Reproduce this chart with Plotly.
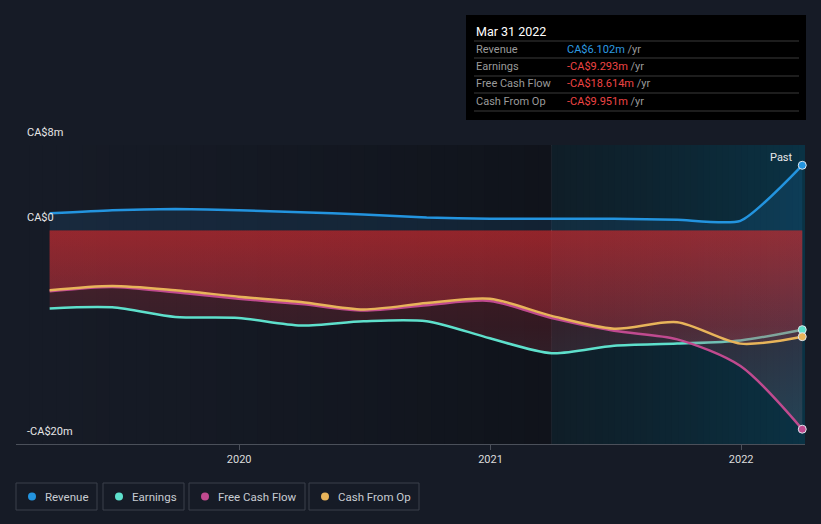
import plotly.graph_objects as go
import pandas as pd

# ---------------- data ----------------
dates = ["2019-03-31", "2019-06-30", "2019-09-30", "2019-12-31", "2020-03-31",
         "2020-06-30", "2020-09-30", "2020-12-31", "2021-03-31", "2021-06-30",
         "2021-09-30", "2021-12-31", "2022-03-31"]
revenue = [1.6, 1.9, 2.0, 1.9, 1.7, 1.5, 1.2, 1.1, 1.1, 1.1, 1.0, 0.9, 6.102]
earnings = [-7.3, -7.2, -8.1, -8.2, -8.9, -8.5, -8.5, -10.1, -11.5, -10.8, -10.6, -10.3, -9.293]
free_cash_flow = [-5.7, -5.3, -5.8, -6.4, -6.9, -7.5, -7.0, -6.6, -8.2, -9.4, -10.2, -12.7, -18.614]
cash_from_op = [-5.6, -5.2, -5.6, -6.2, -6.7, -7.4, -6.8, -6.4, -8.0, -9.2, -8.6, -10.6, -9.951]

series_names = ["Revenue", "Earnings", "Free Cash Flow", "Cash From Op"]
series_colors = ["#2394df", "#5ee0cc", "#c04a8f", "#e8b45a"]
tooltip_date = "Mar 31 2022"
tooltip_values = ["CA$6.102m", "-CA$9.293m", "-CA$18.614m", "-CA$9.951m"]
tooltip_value_colors = ["#2d9be0", "#ee4444", "#ee4444", "#ee4444"]
y_tick_vals = [8, 0, -20]
y_tick_text = ["CA$8m", "CA$0", "-CA$20m"]
x_tick_vals = ["2020-01-01", "2021-01-01", "2022-01-01"]
x_tick_text = ["2020", "2021", "2022"]

# ---------------- layout geometry ----------------
W, H = 821, 524
ML, MR, MT, MB = 16, 16, 145, 80
PW, PH = W - ML - MR, H - MT - MB
X_RANGE = ["2019-02-10", "2022-04-04"]
Y_RANGE = [-20, 8]
BG = "#161b26"
BG_RGB = (22, 27, 38)
FONT = "Roboto, 'Open Sans', sans-serif"


def px(xp):
    return (xp - ML) / PW


def py(yp):
    return (H - MB - yp) / PH


fig = go.Figure()
shapes = []
annotations = []

# background regions (gradients approximated with overlapping opaque stripes)
x0 = pd.Timestamp(X_RANGE[0])
xs = pd.Timestamp(dates[8])
x1 = pd.Timestamp(X_RANGE[1])
n = 40
for i in range(n):
    a = x0 + (xs - x0) * i / n
    b = x0 + (xs - x0) * min(i + 1.6, n) / n
    alpha = 0.30 * ((i + 0.5) / n) ** 1.5
    col = tuple(int(round(c * (1 - alpha))) for c in BG_RGB)
    shapes.append(dict(type="rect", xref="x", yref="y", x0=a, x1=b, y0=Y_RANGE[0], y1=Y_RANGE[1],
                       fillcolor=f"rgb{col}", line_width=0, layer="below"))
c0 = (15, 30, 40)
c1 = (10, 50, 68)
for i in range(n):
    a = xs + (x1 - xs) * i / n
    b = xs + (x1 - xs) * min(i + 1.6, n) / n
    t = ((i + 0.5) / n) ** 1.3
    col = tuple(int(round(c0[k] + (c1[k] - c0[k]) * t)) for k in range(3))
    shapes.append(dict(type="rect", xref="x", yref="y", x0=a, x1=b, y0=Y_RANGE[0], y1=Y_RANGE[1],
                       fillcolor=f"rgb{col}", line_width=0, layer="below"))
shapes.append(dict(type="line", xref="x", yref="y", x0=xs, x1=xs, y0=Y_RANGE[0], y1=Y_RANGE[1],
                   line=dict(color="rgba(255,255,255,0.06)", width=1), layer="below"))

# horizontal grid lines
grid_specs = [(8, "#3b404b", 1), (0, "#a4a8b0", 1.5), (-10, "#2f343e", 1)]
for gv, gc, gw in grid_specs:
    shapes.append(dict(type="line", xref="paper", yref="y", x0=0, x1=1, y0=gv, y1=gv,
                       line=dict(color=gc, width=gw), layer="below"))

# ---------------- traces ----------------
neg_gradient = dict(type="vertical", start=-20, stop=0,
                    colorscale=[[0, "rgba(150,160,180,0.18)"], [0.55, "rgba(190,50,62,0.2)"],
                                [1, "rgba(215,45,50,0.3)"]])

fig.add_trace(go.Scatter(x=dates, y=revenue, mode="lines", name=series_names[0],
                         line=dict(color=series_colors[0], width=2.5, shape="spline", smoothing=0.55),
                         fill="tozeroy", fillcolor="rgba(35,140,220,0.13)", hoverinfo="skip"))
for name, vals, col in [(series_names[1], earnings, series_colors[1]),
                        (series_names[2], free_cash_flow, series_colors[2]),
                        (series_names[3], cash_from_op, series_colors[3])]:
    fig.add_trace(go.Scatter(x=dates, y=vals, mode="lines", name=name,
                             line=dict(color=col, width=2.5, shape="spline", smoothing=0.8),
                             fill="tozeroy", fillgradient=neg_gradient, hoverinfo="skip"))

# end markers
for vals, col in zip([revenue, earnings, free_cash_flow, cash_from_op], series_colors):
    fig.add_trace(go.Scatter(x=[dates[-1]], y=[vals[-1]], mode="markers",
                             marker=dict(color=col, size=8, line=dict(color="#dfe6ee", width=1)),
                             hoverinfo="skip", showlegend=False, cliponaxis=False))

# ---------------- annotations ----------------
for v, t in zip(y_tick_vals, y_tick_text):
    annotations.append(dict(xref="paper", yref="y", x=px(25), y=v, text=t, showarrow=False,
                            xanchor="left", yanchor="bottom", yshift=4,
                            font=dict(color="#e6e6e6", size=11, family=FONT)))

annotations.append(dict(xref="x", yref="y", x=dates[-1], y=Y_RANGE[1], text="Past", showarrow=False,
                        xanchor="right", yanchor="top", xshift=-7, yshift=-4,
                        font=dict(color="#e8e8e8", size=11, family=FONT)))

# tooltip box
shapes.append(dict(type="rect", xref="paper", yref="paper", x0=px(466), x1=px(806), y0=py(120), y1=py(15),
                   fillcolor="#000000", line_width=0, layer="above"))
for yl in [41, 58, 76, 93, 111]:
    shapes.append(dict(type="line", xref="paper", yref="paper", x0=px(474), x1=px(799), y0=py(yl), y1=py(yl),
                       line=dict(color="#3a3a3a", width=1), layer="above"))
annotations.append(dict(xref="paper", yref="paper", x=px(474), y=py(31), text=tooltip_date, showarrow=False,
                        xanchor="left", yanchor="middle", font=dict(color="#ffffff", size=12.5, family=FONT)))
for i, (nm, val, vc) in enumerate(zip(series_names, tooltip_values, tooltip_value_colors)):
    yrow = [49.5, 66.5, 84, 101][i]
    annotations.append(dict(xref="paper", yref="paper", x=px(474), y=py(yrow), text=nm, showarrow=False,
                            xanchor="left", yanchor="middle", font=dict(color="#9a9a9a", size=11, family=FONT)))
    annotations.append(dict(xref="paper", yref="paper", x=px(565), y=py(yrow),
                            text=f"<span style='color:{vc}'>{val}</span> /yr", showarrow=False,
                            xanchor="left", yanchor="middle", font=dict(color="#9a9a9a", size=11, family=FONT)))

# custom legend
legend_boxes = [(16, 97), (103, 184), (189, 305), (309, 419)]
for (bx0, bx1), nm, col in zip(legend_boxes, series_names, series_colors):
    shapes.append(dict(type="rect", xref="paper", yref="paper", x0=px(bx0), x1=px(bx1), y0=py(510), y1=py(483),
                       fillcolor="rgba(0,0,0,0)", line=dict(color="#3a404b", width=1), layer="above"))
    cx = bx0 + 16
    shapes.append(dict(type="circle", xref="paper", yref="paper", x0=px(cx - 4), x1=px(cx + 4),
                       y0=py(500.5), y1=py(492.5), fillcolor=col, line_width=0, layer="above"))
    annotations.append(dict(xref="paper", yref="paper", x=px(bx0 + 27), y=py(496.5), text=nm, showarrow=False,
                            xanchor="left", yanchor="middle", font=dict(color="#c8ccd2", size=11.5, family=FONT)))

fig.update_layout(
    width=W, height=H,
    margin=dict(l=ML, r=MR, t=MT, b=MB),
    paper_bgcolor=BG, plot_bgcolor=BG,
    showlegend=False,
    shapes=shapes, annotations=annotations,
    xaxis=dict(type="date", range=X_RANGE, showgrid=False, zeroline=False,
               tickvals=x_tick_vals, ticktext=x_tick_text, ticks="outside", ticklen=5,
               tickcolor="#4b505a", showline=True, linecolor="#4b505a", linewidth=1,
               tickfont=dict(color="#dcdcdc", size=11, family=FONT)),
    yaxis=dict(range=Y_RANGE, showgrid=False, zeroline=False, showticklabels=False, ticks=""),
    font=dict(family=FONT),
)

fig.write_html("out.html")
